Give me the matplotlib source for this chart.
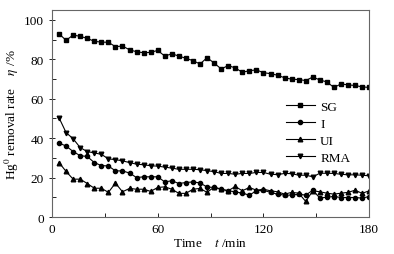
import numpy as np
import matplotlib
matplotlib.use("Agg")
import matplotlib.pyplot as plt

plt.rcParams['font.family'] = ['Liberation Serif', 'DejaVu Serif']
plt.rcParams['mathtext.fontset'] = 'stix'
plt.rcParams['font.size'] = 9.5

# time (min), samples every 4 min
t = list(range(4, 181, 4))

sg = [92.9, 89.6, 92.3, 91.6, 90.6, 89.1, 88.7, 88.6, 86.4, 86.7,
      84.8, 83.8, 83.3, 83.5, 84.5, 81.6, 82.8, 81.6, 80.5, 79.3,
      77.6, 80.8, 78.1, 75.1, 76.8, 75.6, 73.4, 74.2, 74.6, 73.2,
      72.7, 71.9, 70.6, 69.9, 69.7, 69.2, 71.0, 69.5, 68.5, 65.7,
      67.5, 67.0, 66.7, 66.0, 65.7]
i_vals = [37.5, 36.0, 33.2, 31.1, 30.7, 27.6, 26.1, 25.9, 23.4, 23.4,
          22.3, 20.0, 20.4, 20.4, 20.4, 17.8, 18.4, 17.0, 17.5, 17.8,
          17.3, 15.2, 15.0, 14.1, 13.3, 12.8, 12.1, 11.1, 13.3, 13.6,
          12.5, 11.6, 11.1, 11.1, 11.6, 11.1, 13.6, 9.6, 10.1, 10.4,
          9.9, 9.9, 9.9, 9.6, 10.4]
ui = [27.6, 23.1, 19.2, 19.2, 17.0, 14.6, 14.6, 12.5, 17.2, 12.8,
      14.5, 14.1, 14.1, 13.0, 15.0, 15.3, 14.1, 12.0, 12.0, 14.1,
      14.5, 12.5, 15.2, 14.1, 13.3, 15.5, 13.3, 15.0, 13.6, 14.1,
      13.3, 12.8, 11.6, 12.5, 12.1, 7.9, 13.3, 12.8, 12.1, 11.6,
      12.1, 12.5, 13.6, 12.0, 13.3]
rma = [50.3, 42.8, 39.7, 35.2, 33.2, 32.5, 31.8, 29.5, 29.1, 28.5,
       27.6, 26.8, 26.5, 26.0, 25.8, 25.3, 24.8, 24.2, 24.2, 24.2,
       24.0, 23.5, 23.0, 22.1, 22.1, 21.7, 22.1, 22.1, 22.6, 22.6,
       21.7, 21.5, 22.1, 22.0, 21.2, 21.2, 20.4, 22.2, 22.2, 22.1,
       21.7, 21.4, 21.4, 21.2, 20.9]

fig = plt.figure(figsize=(3.94, 2.55), dpi=100)
ax = fig.add_axes([0.132, 0.145, 0.805, 0.812])

ms = 3.0
lw = 0.8
ax.plot(t, sg, 'k-', marker='s', ms=ms, lw=lw, label='SG')
ax.plot(t, i_vals, 'k-', marker='o', ms=ms, lw=lw, label='I')
ax.plot(t, ui, 'k-', marker='^', ms=ms + 0.3, lw=lw, label='UI')
ax.plot(t, rma, 'k-', marker='v', ms=ms + 0.3, lw=lw, label='RMA')

ax.set_xlim(0, 180)
ax.set_ylim(0, 105)
ax.set_xticks([0, 60, 120, 180])
ax.set_xticks([30, 90, 150], minor=True)
ax.set_yticks([0, 20, 40, 60, 80, 100])
ax.set_yticks([10, 30, 50, 70, 90], minor=True)
ax.tick_params(axis='x', which='both', direction='in', length=3, width=0.6, pad=4)
ax.tick_params(axis='y', which='major', direction='inout', length=5, width=0.6)
ax.tick_params(axis='y', which='minor', direction='in', length=3, width=0.6)
for s in ax.spines.values():
    s.set_color('#666666')
    s.set_linewidth(0.8)

ax.set_xlabel(r'Time    $\mathit{t}$ /min', labelpad=2)
ax.set_ylabel(r'Hg$^0$ removal rate    $\mathit{\eta}$ /%', labelpad=2)

ax.legend(loc='center left', bbox_to_anchor=(0.7, 0.41), frameon=False,
          handlelength=2.2, handletextpad=0.4, labelspacing=0.35)

fig.savefig('out.png', dpi=100)
